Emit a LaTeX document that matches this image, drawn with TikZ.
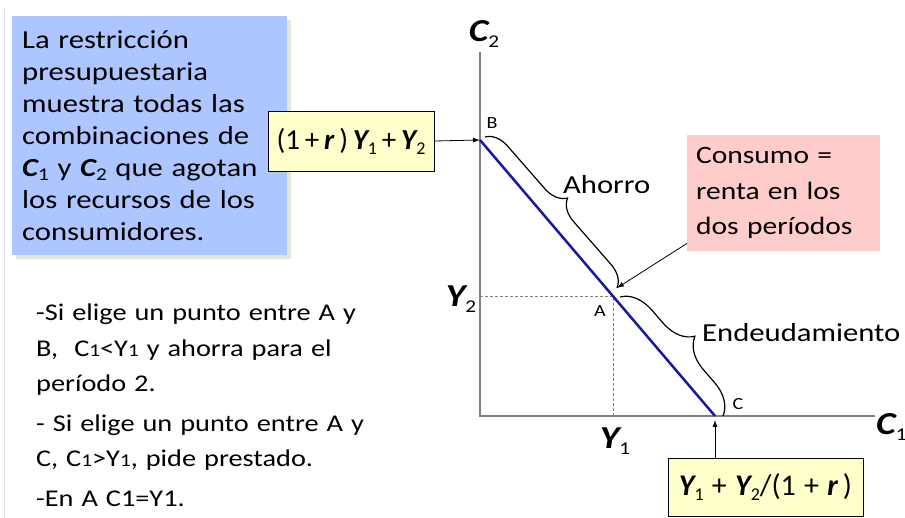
\documentclass[tikz,border=0pt]{standalone}
\usepackage{fontspec}
\setmainfont{Carlito}[FakeStretch=1.18]
\newfontfamily\formfont{Carlito}
\usetikzlibrary{decorations.pathreplacing,arrows.meta,calc}
\definecolor{boxblue}{RGB}{174,198,255}
\definecolor{shadowc}{RGB}{232,228,214}
\definecolor{boxpink}{RGB}{255,204,204}
\definecolor{boxyellow}{RGB}{255,255,204}
\definecolor{linenavy}{RGB}{24,24,160}
\definecolor{axisgray}{RGB}{128,128,128}
\newcommand\vY{{\bfseries\itshape Y}}
\newcommand\vr{{\bfseries\itshape r}}
\newcommand\vC{{\bfseries\itshape C}}
\newcommand\sbs[1]{\raisebox{-0.35ex}{\fontsize{18}{18}\selectfont\mdseries\upshape #1}}
\newcommand\smo{{\fontsize{18}{18}\selectfont 1}}
\tikzset{
  bluebox/.style={fill=boxblue, anchor=north west, align=left, inner xsep=10pt, inner ysep=0pt},
  pinkbox/.style={fill=boxpink, anchor=north west, align=left, inner xsep=9pt, inner ysep=0pt},
  formbox/.style={fill=boxyellow, draw=black, line width=0.8pt, inner sep=0pt},
  axis/.style={draw=axisgray, line width=1.5pt},
  budget/.style={draw=linenavy, line width=2.5pt},
  guide/.style={draw=axisgray, line width=0.8pt, dash pattern=on 3pt off 2pt},
  curly/.style={draw=black, line width=1.2pt, decorate, decoration={brace, amplitude=#1}},
  pointer/.style={draw=black, line width=0.8pt, -{Latex[length=7pt,width=5pt]}},
  ptlabel/.style={font=\fontsize{17}{17}\selectfont, inner sep=0pt},
  axlabel/.style={font=\fontsize{32}{32}\selectfont, inner sep=0pt},
  plain/.style={font=\fontsize{26}{26}\selectfont, inner sep=0pt}
}
\begin{document}
\begin{tikzpicture}[x=1pt,y=-1pt]
\useasboundingbox (0,0) rectangle (905,518);
\fill[white] (0,0) rectangle (905,518);
\draw[black!12, line width=1pt] (4,8) -- (4,518);

% blue info box with shadow
\fill[shadowc] (16,20) rectangle (291,259);
\node[bluebox, minimum width=275pt, minimum height=239pt, text width=255pt,
      font=\fontsize{26}{32}\selectfont] (info) at (12,16)
  {La restricción\\ presupuestaria\\ muestra todas las\\ combinaciones de\\
   \vC\sbs{1} y \vC\sbs{2} que agotan\\ los recursos de los\\ consumidores.};

% axes
\coordinate (O) at (480,416);
\coordinate (ytop) at (480,52);
\coordinate (xend) at (875,416);
\draw[axis] (ytop) -- (O) -- (xend);
\node[axlabel] (c2lab) at (484,34) {\vC\sbs{2}};
\node[axlabel, anchor=west] (c1lab) at (876,427) {\vC\sbs{1}};

% budget line
\coordinate (B) at (480,140);
\coordinate (A) at (613,296);
\coordinate (C) at (715,416);
\draw[guide] (A -| O) -- (A) -- (A |- O);
\draw[budget] (B) -- (C);

\node[ptlabel] (blab) at (492,123) {B};
\node[ptlabel] (alab) at (600,311) {A};
\node[ptlabel] (clab) at (738,404) {C};
\node[axlabel] (y2lab) at (461,299) {\vY\sbs{2}};
\node[axlabel] (y1lab) at (615,441) {\vY\sbs{1}};

% braces
\coordinate (br1s) at (485,137);
\coordinate (br1e) at (617,288);
\coordinate (br2s) at (620,297);
\coordinate (br2e) at (723,416);
\draw[curly=22pt] (br1s) -- (br1e);
\draw[curly=31pt] (br2s) -- (br2e);
\node[plain, anchor=west] (ahorro) at (563,185) {Ahorro};
\node[plain, anchor=west] (endeu) at (702,333) {Endeudamiento};

% pink box
\node[pinkbox, minimum width=193pt, minimum height=116pt, text width=175pt,
      font=\fontsize{25}{35.5}\selectfont] (pink) at (687,135)
  {Consumo =\\ renta en los\\ dos períodos};
\draw[pointer] ($(pink.south west)+(0,-8)$) -- (br1e);

% formula boxes
\node[formbox, minimum width=166pt, minimum height=60pt, font=\formfont\fontsize{29}{29}\selectfont]
  (fleft) at (351,141) {(1\,+\,\vr\,)\,\vY\sbs{1}\,+\,\vY\sbs{2}};
\draw[pointer] (fleft.east) -- (B);
\node[formbox, minimum width=195pt, minimum height=58pt, font=\formfont\fontsize{30}{30}\selectfont]
  (fbot) at (765.5,487) {\vY\sbs{1}\;+\;\vY\sbs{2}/(1\;+\;\vr\,)};
\draw[pointer] (fbot.north -| C) -- ($(C)+(0,4)$);

% explanation text
\node[anchor=north west, align=left, inner sep=0pt, text width=340pt,
      font=\fontsize{24}{35.5}\selectfont] (expl) at (36,304)
  {-Si elige un punto entre A y\\ B,\ \ C\smo{}<Y\smo{} y ahorra para el\\ período 2.\\[4pt]
   - Si elige un punto entre A y\\ C, C\smo{}>Y\smo{}, pide prestado.\\[4pt]
   -En A C1=Y1.};
\end{tikzpicture}
\end{document}
